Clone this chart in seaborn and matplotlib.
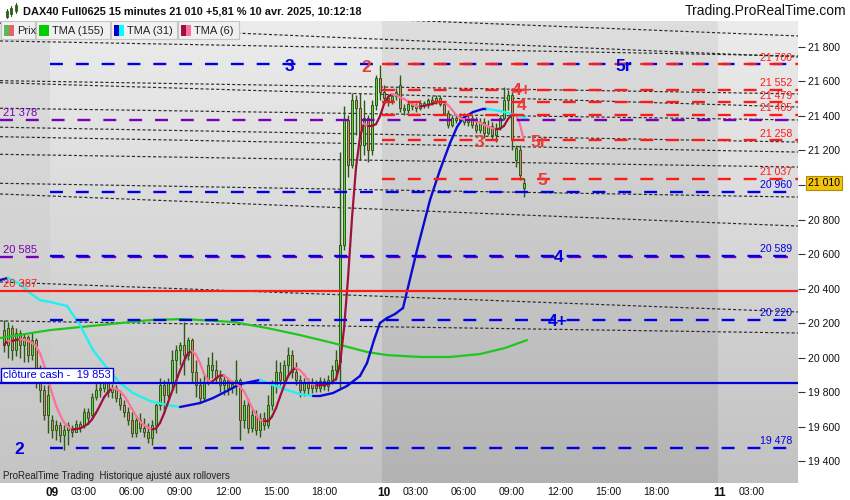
import numpy as np
import pandas as pd
import matplotlib
matplotlib.use("Agg")
import matplotlib.pyplot as plt
from matplotlib.collections import LineCollection
from matplotlib.patches import Rectangle
import seaborn as sns

# ---------------- data ----------------
opens = [
    20159, 20072, 20171, 20043, 20142, 20072, 20119, 20014, 20101, 19916, 19812, 19667,
    19638, 19580, 19609, 19551, 19580, 19591, 19568, 19615, 19609, 19684,
    19667, 19771, 19812, 19823, 19852, 19800, 19823, 19765, 19725, 19684,
    19638, 19562, 19638, 19591, 19568, 19533, 19609, 19725, 19841, 19783,
    19858, 19985, 20043, 20072, 20014, 20101, 19916, 19841, 19765, 19858,
    19957, 19928, 19881, 19841, 19870, 19823, 19846, 19870, 19638, 19725,
    19591, 19667, 19580, 19649, 19609, 19725, 19841, 19916, 19870, 19957,
    20014, 19916, 19870, 19812, 19852, 19823, 19858, 19823, 19864, 19835,
    19870, 19928, 19974, 20652, 21377, 21116, 21493, 21446, 21232, 21388,
    21203, 21464, 21620,
    21539, 21504, 21493, 21516, 21580, 21446, 21435, 21470, 21458, 21446,
    21475, 21464, 21493, 21481, 21504, 21470, 21417, 21348, 21388, 21377,
    21394, 21365, 21388, 21348, 21319, 21365, 21301, 21342, 21290, 21330,
    21388, 21493, 21522, 21145, 21203, 20983,
]
highs = [
    20217, 20206, 20188, 20171, 20159, 20142, 20130, 20142, 20113, 19957, 19841, 19841,
    19667, 19638, 19626, 19609, 19626, 19609, 19638, 19632, 19707, 19707,
    19794, 19852, 19858, 19870, 19864, 19846, 19841, 19812, 19754, 19713,
    19684, 19667, 19678, 19649, 19620, 19638, 19736, 19881, 19870, 19881,
    20043, 20072, 20090, 20206, 20119, 20113, 19985, 19881, 19899, 20003,
    20032, 19985, 19928, 19899, 19881, 19870, 19985, 19881, 19754, 19765,
    19707, 19696, 19678, 19684, 19783, 19870, 19985, 19974, 19985, 20061,
    20043, 19974, 19899, 19881, 19881, 19881, 19870, 19887, 19881, 19899,
    19957, 20043, 21191, 21458, 21406, 21533, 21522, 21533, 21493, 21406,
    21493, 21638, 21696,
    21580, 21528, 21533, 21562, 21638, 21470, 21493, 21487, 21475, 21493,
    21487, 21504, 21516, 21522, 21516, 21481, 21435, 21406, 21406, 21417,
    21417, 21406, 21406, 21394, 21388, 21388, 21377, 21365, 21359, 21406,
    21568, 21551, 21539, 21232, 21232, 21041,
]
lows = [
    20032, 19997, 19985, 20009, 19997, 19974, 19974, 19985, 19823, 19742, 19638, 19562,
    19533, 19522, 19510, 19464, 19493, 19539, 19568, 19568, 19591, 19615,
    19649, 19754, 19771, 19800, 19771, 19765, 19742, 19696, 19655, 19609,
    19539, 19539, 19568, 19539, 19504, 19493, 19562, 19696, 19678, 19765,
    19812, 19794, 19957, 19899, 19985, 19858, 19771, 19736, 19754, 19841,
    19881, 19858, 19800, 19783, 19783, 19794, 19783, 19522, 19591, 19562,
    19568, 19551, 19539, 19580, 19591, 19696, 19794, 19841, 19852, 19887,
    19881, 19841, 19771, 19777, 19783, 19794, 19800, 19800, 19812, 19806,
    19846, 19870, 19823, 20623, 21046, 21099, 21290, 21145, 21174, 21133,
    21174, 21435, 21493,
    21481, 21458, 21470, 21493, 21423, 21406, 21417, 21435, 21423, 21435,
    21446, 21446, 21464, 21470, 21458, 21406, 21330, 21336, 21359, 21365,
    21348, 21342, 21330, 21301, 21301, 21272, 21290, 21261, 21249, 21319,
    21377, 21435, 21203, 21104, 21029, 20930,
]
closes = [
    20072, 20171, 20043, 20142, 20072, 20119, 20014, 20101, 19916, 19812, 19667, 19783,
    19580, 19609, 19551, 19580, 19609, 19568, 19615, 19591, 19684, 19649,
    19771, 19812, 19823, 19852, 19800, 19823, 19765, 19725, 19684, 19638,
    19562, 19638, 19591, 19568, 19533, 19609, 19725, 19841, 19783, 19858,
    19985, 20043, 20072, 20014, 20101, 19916, 19841, 19765, 19858, 19957,
    19928, 19881, 19841, 19870, 19823, 19846, 19870, 19638, 19725, 19591,
    19667, 19580, 19649, 19609, 19725, 19841, 19916, 19870, 19957, 20014,
    19916, 19870, 19812, 19852, 19823, 19858, 19823, 19864, 19835, 19870,
    19928, 19985, 20652, 21377, 21116, 21493, 21446, 21232, 21388, 21203,
    21464, 21620, 21539,
    21504, 21493, 21516, 21539, 21446, 21435, 21470, 21458, 21446, 21475,
    21464, 21493, 21481, 21504, 21470, 21417, 21348, 21388, 21377, 21394,
    21365, 21388, 21348, 21319, 21365, 21301, 21342, 21290, 21330, 21388,
    21493, 21522, 21261, 21214, 21058, 21012,
]

tma155_x = [-1, 11.5, 24, 36.5, 44.75, 57.25, 65.75, 74, 82.25, 90.75, 95.75, 104, 111.5, 119, 125.25, 130.75]
tma155_y = [20113, 20159, 20188, 20217, 20223, 20206, 20171, 20130, 20084, 20032, 20014, 20003, 20003, 20020, 20055, 20101]

tma31_x = [-1, 1, 4, 6.5, 9, 11.5, 15.75, 19, 22.25, 25.75, 29, 32.25, 36.5, 40.75, 44, 49, 52.25,
           55.75, 59, 64, 67.25, 70.75, 74, 77.25, 79, 82.25, 85.75, 89, 90.75, 92.5, 94, 95.75,
           97.75, 99.75, 103.25, 106.5, 109, 111.5, 113.25, 114.75, 117.25, 119.75, 120.75, 124,
           127.75, 130.75]
tma31_y = [20449, 20461, 20426, 20374, 20333, 20322, 20299, 20188, 20043, 19939, 19852, 19794, 19748,
           19725, 19713, 19736, 19765, 19806, 19846, 19870, 19841, 19812, 19788, 19777, 19777, 19794,
           19835, 19893, 19968, 20101, 20200, 20229, 20252, 20287, 20623, 20913, 21087, 21243, 21336,
           21388, 21423, 21441, 21441, 21429, 21406, 21383]

tick_pos = [12, 20, 32, 44, 56, 68, 80, 95, 103, 115, 127, 139, 151, 163, 179, 187]
tick_lab = ["09", "03:00", "06:00", "09:00", "12:00", "15:00", "18:00",
            "10", "03:00", "06:00", "09:00", "12:00", "15:00", "18:00",
            "11", "03:00"]
day_starts = [12, 95, 179]

price_ticks = [19400, 19600, 19800, 20000, 20200, 20400, 20600, 20800, 21000, 21200, 21400, 21600, 21800]
price_tick_labels = ["19 400", "19 600", "19 800", "20 000", "20 200", "20 400", "20 600",
                     "20 800", "", "21 200", "21 400", "21 600", "21 800"]

blue_levels = [21700, 20960, 20589, 20220, 19478]
purple_levels = [21378, 20585]
red_levels = [21700, 21552, 21479, 21405, 21258, 21037]
red_solid_level = 20387
cash_close = 19853
last_price = 21010

trend_start = [22049, 21939, 21835, 21605, 21593, 21445, 21335, 21280, 21178, 21010, 20948, 20438, 20212]
trend_end = [21864, 21742, 21748, 21528, 21452, 21377, 21249, 21191, 21104, 20930, 20762, 20264, 20142]

right_labels = ["21 700", "21 552", "21 479", "21 405", "21 258", "21 037", "20 960", "20 589", "20 220", "19 478"]
right_values = [21700, 21552, 21479, 21405, 21258, 21037, 20960, 20589, 20220, 19478]
left_labels = ["21 378", "20 585", "20 387"]
left_values = [21378, 20585, 20387]

wave_text = ["3", "2", "4+", "4", "3", "5r", "5", "5r", "4", "4+", "2"]
wave_x = [71.25, 90.5, 129.5, 129.5, 118.75, 133.75, 134.5, 155, 138.75, 138.5, 3.75]
wave_level = [21700, 21690, 21560, 21472, 21258, 21258, 21037, 21700, 20589, 20220, 19478]
wave_is_red = [False, True, True, True, True, True, True, False, False, False, False]

# ---------------- style ----------------
sns.set_style("white")
plt.rcParams["font.family"] = ["Liberation Sans", "DejaVu Sans"]
plt.rcParams["lines.scale_dashes"] = False

BLUE = "#0000e6"
RED = "#ff1a1a"
PURPLE = "#7a00b8"
LBL_RED = "#e83c3c"

W, H = 850, 500
fig = plt.figure(figsize=(W / 100, H / 100), dpi=100, facecolor="white")
ax = fig.add_axes([0, 17 / H, 798 / W, 462 / H])
X0, X1 = -1, 198.5
Y0, Y1 = 19272.5, 21950.7

# background gradient with day bands
ncol, nrow = 798, 462
cx = (np.arange(ncol) + 0.5) / ncol * (X1 - X0) + X0
t = np.linspace(0, 1, nrow)[:, None]
light = 0.925 - 0.165 * t
dark = 0.872 - 0.172 * t
pre = 0.872 - 0.10 * t
band = np.where(cx < day_starts[0] - 0.5, 0, np.where(cx < day_starts[1] - 0.5, 1,
                np.where(cx < day_starts[2] - 0.5, 2, 1)))
img = np.where(band[None, :] == 1, light, np.where(band[None, :] == 2, dark, pre))
img = np.repeat(img[:, :, None], 3, axis=2)
ax.imshow(img, extent=(X0, X1, Y0, Y1), origin="upper", aspect="auto",
          interpolation="nearest", zorder=0)

# trend lines (dotted)
for s, e in zip(trend_start, trend_end):
    ax.plot([X0, X1], [s, e], color="#2a2a2a", lw=0.85, ls=(0, (2.2, 1.6)), zorder=1)

# candles
n = len(closes)
xs = np.arange(n)
o = np.array(opens, float); c = np.array(closes, float)
hi = np.array(highs, float); lo = np.array(lows, float)
up = c >= o
ax.vlines(xs, lo, hi, color="#2b5a17", lw=1.0, zorder=3)
body_bottom = np.minimum(o, c)
body_h = np.maximum(np.abs(c - o), 4)
ax.bar(xs[up], body_h[up], bottom=body_bottom[up], width=0.72, color="#63d443",
       edgecolor="#2b5a17", linewidth=0.7, zorder=3.2)
ax.bar(xs[~up], body_h[~up], bottom=body_bottom[~up], width=0.72, color="#ea8272",
       edgecolor="#2b5a17", linewidth=0.7, zorder=3.2)

# TMA 155
sns.lineplot(x=tma155_x, y=tma155_y, ax=ax, color="#1fc61f", linewidth=1.6, zorder=3.5,
             legend=False, sort=False)

# two-colour lines (rising / falling)
def two_colour_line(xv, yv, c_up, c_dn, lw):
    pts = np.column_stack([xv, yv])
    segs = [pts[i:i + 2] for i in range(len(pts) - 1)]
    cols = [c_up if yv[i + 1] >= yv[i] else c_dn for i in range(len(pts) - 1)]
    lc = LineCollection(segs, colors=cols, linewidths=lw, zorder=3.6, capstyle="round")
    ax.add_collection(lc)

two_colour_line(np.array(tma31_x), np.array(tma31_y, float), "#0a0ad2", "#22f0f0", 1.7)

# TMA 6 computed from closes
tma6 = pd.Series(closes, dtype=float).rolling(3, min_periods=1).mean().rolling(4, min_periods=1).mean()
two_colour_line(xs, tma6.values, "#a0103c", "#ff7098", 1.6)

# levels
dash = (0, (9.3, 9.3))
ax.hlines(purple_levels, X0, X1, colors=PURPLE, linestyles=[dash], lw=1.7, zorder=4)
ax.hlines(blue_levels, day_starts[0] - 0.5, X1, colors=BLUE, linestyles=[dash], lw=1.7, zorder=4.1)
ax.hlines(red_levels, day_starts[1] - 0.5, X1, colors=RED, linestyles=[dash], lw=1.7, zorder=4.2)
ax.hlines([red_solid_level], X0, X1, colors=RED, lw=1.6, zorder=4)
ax.hlines([cash_close], X0, X1, colors="#0000dd", lw=1.6, zorder=4)

# level labels
for lab, v in zip(right_labels, right_values):
    col = RED if v in red_levels else BLUE
    ax.annotate(lab, xy=(1, v), xycoords=("axes fraction", "data"), xytext=(-4, 1.2),
                textcoords="offset points", ha="right", va="bottom", fontsize=7.6,
                color=col, zorder=6)
for lab, v in zip(left_labels, left_values):
    col = RED if v == red_solid_level else PURPLE
    ax.annotate(lab, xy=(0, v), xycoords=("axes fraction", "data"), xytext=(2, 1.2),
                textcoords="offset points", ha="left", va="bottom", fontsize=8,
                color=col, zorder=6)

ax.annotate("clôture cash -  " + f"{cash_close:,}".replace(",", " "), xy=(0, cash_close),
            xycoords=("axes fraction", "data"), xytext=(2.5, 2.2), textcoords="offset points",
            ha="left", va="bottom", fontsize=8, color="#0000dd", zorder=7,
            bbox=dict(boxstyle="square,pad=0.18", fc="white", ec="#0000dd", lw=1.0))

# wave labels
for txt, xv, lv, isred in zip(wave_text, wave_x, wave_level, wave_is_red):
    ax.annotate(txt, xy=(xv, lv), xytext=(0, -4.6), textcoords="offset points",
                ha="center", va="baseline", fontsize=12.5, fontweight="bold",
                color=LBL_RED if isred else BLUE, zorder=6.5)

# footer inside plot
ax.text(0.004, 0.016, "ProRealTime Trading  Historique ajusté aux rollovers",
        transform=ax.transAxes, fontsize=7, color="#202020", va="center", ha="left", zorder=6)

# axes setup
ax.set_xlim(X0, X1)
ax.set_ylim(Y0, Y1)
for sp in ax.spines.values():
    sp.set_visible(False)
ax.yaxis.tick_right()
ax.set_yticks(price_ticks)
ax.set_yticklabels(price_tick_labels)
ax.tick_params(axis="y", length=5, width=0.8, color="#333333", labelsize=7.6, pad=2,
               labelcolor="#111111")
ax.set_xticks(tick_pos)
ax.set_xticklabels(tick_lab)
ax.tick_params(axis="x", length=0, labelsize=7.6, pad=3, labelcolor="#111111")
for lbl, tl in zip(tick_lab, ax.get_xticklabels()):
    if len(lbl) == 2:
        tl.set_fontweight("bold")
        tl.set_fontsize(8.5)
ax.set_xticks([d - 0.5 for d in day_starts], minor=True)
ax.tick_params(axis="x", which="minor", length=5, width=0.8, color="#333333")
ax.set_xlabel("")
ax.set_ylabel("")

# current price box
ax.annotate(f"{last_price:,}".replace(",", " "), xy=(1, last_price),
            xycoords=("axes fraction", "data"), xytext=(7, 0), textcoords="offset points",
            ha="left", va="center", fontsize=7.6, color="black", zorder=10,
            annotation_clip=False,
            bbox=dict(boxstyle="square,pad=0.2", fc="#f4c20d", ec="#b08a00", lw=0.8))

# ---------------- header & legend (figure level) ----------------
def fx(p): return p / W
def fy(p): return 1 - p / H

fig.text(fx(23), fy(11.5), "DAX40 Full0625 15 minutes 21 010 +5,81 % 10 avr. 2025, 10:12:18",
         fontsize=7.9, fontweight="bold", va="center", ha="left", color="#111111")
fig.text(fx(846), fy(11), "Trading.ProRealTime.com", fontsize=10, va="center", ha="right",
         color="#111111")

# header icon (tiny candles)
for (x, yb, yt, wb, wt) in [(5.5, 17, 11, 18, 9), (10, 14, 8, 16, 6), (14.5, 11, 5, 13, 3)]:
    fig.add_artist(plt.Line2D([fx(x + 1), fx(x + 1)], [fy(wb), fy(wt)], color="#2b5a17",
                              lw=0.8, transform=fig.transFigure))
    fig.add_artist(Rectangle((fx(x), fy(yb)), 2 / W, (yb - yt) / H, transform=fig.transFigure,
                             fc="#63d443", ec="#2b5a17", lw=0.6))

legend_items = ["Prix", "TMA (155)", "TMA (31)", "TMA (6)"]
legend_cols = [("#5cb85c", "#e06666"), ("#00cc00", "#00cc00"), ("#0000cc", "#00ffff"),
               ("#a0103c", "#ff6f9a")]
xpos = 1
for name, (ca, cb) in zip(legend_items, legend_cols):
    tw = {"Prix": 34, "TMA (155)": 74, "TMA (31)": 66, "TMA (6)": 61}[name]
    fig.add_artist(Rectangle((fx(xpos), fy(39)), tw / W, 18 / H, transform=fig.transFigure,
                             fc="#f0f0f0", ec="#c4c4c4", lw=0.8))
    fig.add_artist(Rectangle((fx(xpos + 3), fy(36)), 5 / W, 11 / H, transform=fig.transFigure,
                             fc=ca, ec="none"))
    fig.add_artist(Rectangle((fx(xpos + 8), fy(36)), 5 / W, 11 / H, transform=fig.transFigure,
                             fc=cb, ec="none"))
    fig.text(fx(xpos + 16), fy(30.5), name, fontsize=8, va="center", ha="left", color="#222222")
    xpos += tw + 1

fig.savefig("out.png", dpi=100, facecolor="white")
